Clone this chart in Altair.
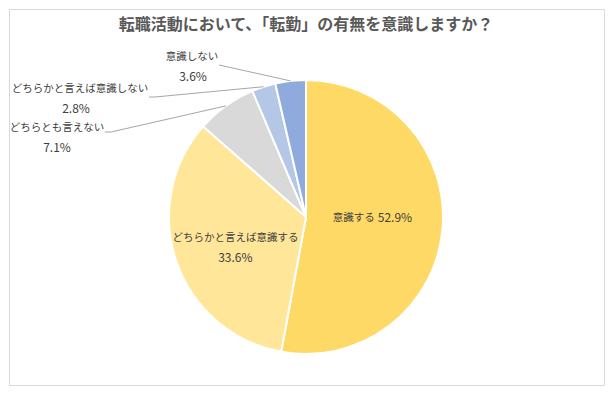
import math
import altair as alt
import pandas as pd

# ---- data ----
categories = ["意識する", "どちらかと言えば意識する", "どちらとも言えない",
              "どちらかと言えば意識しない", "意識しない"]
values = [52.9, 33.6, 7.1, 2.8, 3.6]
slice_colors = ["#FFD966", "#FFE699", "#D9D9D9", "#B4C7E7", "#8FAADC"]
title_text = "転職活動において、「転勤」の有無を意識しますか？"

# ---- layout ----
FONT = "Noto Sans CJK JP"
PAD = 1
W, H = 597 - 2 * PAD, 378 - 2 * PAD
OFF = PAD  # shift so content keeps its page position
CX, CY, R = 298 - OFF, 209 - OFF, 137
TXT = "#404040"
NAME_SIZE = 10.5
PCT_SIZE = 12

df = pd.DataFrame({"cat": categories, "value": values,
                   "order": list(range(len(categories)))})
df["pct"] = [f"{v:.1f}%" for v in values]

base = alt.Chart(df).encode(
    theta=alt.Theta("value:Q", stack=True),
    order=alt.Order("order:Q", sort="ascending"),
    x=alt.value(CX),
    y=alt.value(CY),
)

pie = base.mark_arc(outerRadius=R, stroke="white", strokeWidth=2).encode(
    color=alt.Color("cat:N", scale=alt.Scale(domain=categories, range=slice_colors),
                    legend=None)
)


def inside(cat, field, radius, dx, dy, size, align):
    return base.mark_text(radius=radius, dx=dx, dy=dy, fontSize=size, font=FONT,
                          color=TXT, align=align, baseline="middle").encode(
        text=alt.condition(alt.datum.cat == cat, alt.Text(f"{field}:N"), alt.value(""))
    )


in_layers = [
    inside("意識する", "cat", 67, 2, -5, NAME_SIZE, "right"),
    inside("意識する", "pct", 67, 5, -5, PCT_SIZE, "left"),
    inside("どちらかと言えば意識する", "cat", 80, 5, -5, NAME_SIZE, "center"),
    inside("どちらかと言えば意識する", "pct", 80, 5, 15, PCT_SIZE, "center"),
]

# outside labels: (name_x, name_y, pct_x, pct_y, leader start points)
outside_layout = {
    "意識しない": (184, 49, 185, 69, [(211, 57)]),
    "どちらかと言えば意識しない": (72, 81, 68, 101, [(141, 89), (147, 89)]),
    "どちらとも言えない": (49, 120, 49, 140, [(97, 124), (103, 124)]),
}

total = sum(values)
mid_angle = {}
cum = 0.0
for c, v in zip(categories, values):
    mid_angle[c] = 2 * math.pi * (cum + v / 2) / total
    cum += v

name_rows, pct_rows, leader_rows = [], [], []
for c, (nx, ny, px, py, starts) in outside_layout.items():
    p = df.loc[df["cat"] == c, "pct"].iloc[0]
    name_rows.append({"t": c, "x": nx - OFF, "y": ny - OFF})
    pct_rows.append({"t": p, "x": px - OFF, "y": py - OFF})
    pts = [(sx - OFF, sy - OFF) for sx, sy in starts]
    a = mid_angle[c]
    pts.append((CX + R * math.sin(a), CY - R * math.cos(a)))
    for i, (lx, ly) in enumerate(pts):
        leader_rows.append({"cat": c, "seq": i, "x": lx, "y": ly})

xpix = lambda f: alt.X(f, scale=None, axis=None)
ypix = lambda f: alt.Y(f, scale=None, axis=None)

out_names = alt.Chart(pd.DataFrame(name_rows)).mark_text(
    fontSize=NAME_SIZE, font=FONT, color=TXT, baseline="middle").encode(
    x=xpix("x:Q"), y=ypix("y:Q"), text="t:N")
out_pcts = alt.Chart(pd.DataFrame(pct_rows)).mark_text(
    fontSize=PCT_SIZE, font=FONT, color=TXT, baseline="middle").encode(
    x=xpix("x:Q"), y=ypix("y:Q"), text="t:N")

leaders = alt.Chart(pd.DataFrame(leader_rows)).mark_line(
    color="#A6A6A6", strokeWidth=1).encode(
    x=xpix("x:Q"), y=ypix("y:Q"), detail="cat:N", order="seq:Q")

title = alt.Chart(pd.DataFrame({"t": [title_text]})).mark_text(
    fontSize=16, fontWeight="bold", font=FONT, color="#595959", baseline="middle").encode(
    x=alt.value(298 - OFF), y=alt.value(17 - OFF), text="t:N")

chart = alt.layer(pie, leaders, *in_layers, out_names, out_pcts, title).properties(
    width=W, height=H, padding=PAD,
    autosize=alt.AutoSizeParams(type="none"),
).configure_view(stroke="#D9D9D9", strokeWidth=1)

chart.save("out.html", embed_options={"renderer": "svg", "actions": False})
